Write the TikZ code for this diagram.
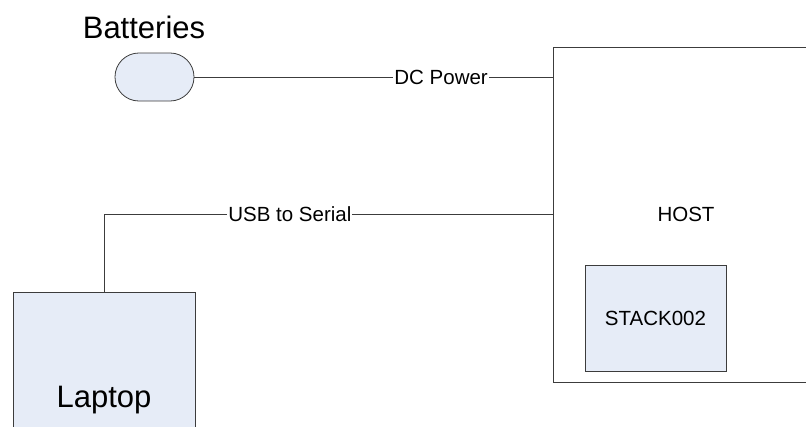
\documentclass[tikz,border=0pt]{standalone}
\usepackage{fontspec}
\setmainfont{Liberation Sans}
\definecolor{boxfill}{HTML}{E6ECF7}
\definecolor{edge}{HTML}{3C3C3C}
\begin{document}
\begin{tikzpicture}[x=1pt,y=-1pt,
  lbl/.style={font=\fontsize{20.5}{24}\selectfont},
  big/.style={font=\fontsize{31}{36}\selectfont},
  box/.style={draw=edge,line width=0.8pt,inner sep=0pt,anchor=center},
  wire/.style={draw=edge,line width=0.8pt},
  wlabel/.style={lbl,fill=white,inner sep=1pt}]
\useasboundingbox (0,0) rectangle (806,426);
\node[box,minimum width=266pt,minimum height=335pt,lbl] (host) at (686,214.5) {HOST};
\node[box,fill=boxfill,minimum width=141pt,minimum height=106pt,lbl] (stack) at (655.5,318) {STACK002};
\node[box,fill=boxfill,minimum width=182pt,minimum height=216pt,big] (laptop) at (104,400) {Laptop};
\node[box,fill=boxfill,minimum width=79pt,minimum height=48pt,rounded corners=23.9pt] (bat) at (154.5,77) {};
\node[big] (battxt) at (144,27) {Batteries};
\coordinate (hp) at (553,77);
\coordinate (hu) at (553,214);
\draw[wire] (bat.east) -- node[wlabel,pos=0.688] (dc) {DC Power} (hp);
\draw[wire] (laptop.north) |- node[wlabel,pos=0.707] (usb) {USB to Serial} (hu);
\end{tikzpicture}
\end{document}
